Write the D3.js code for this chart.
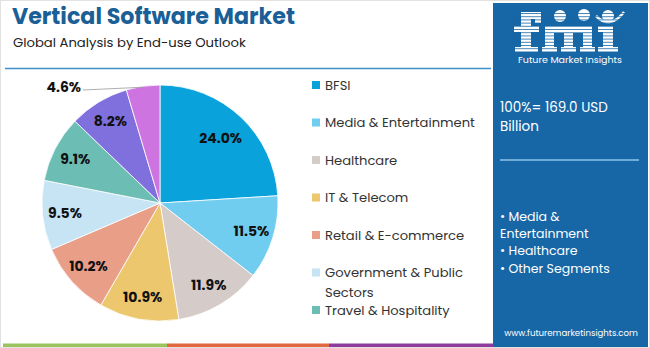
<!DOCTYPE html>
<html><head><meta charset="utf-8">
<script src="https://cdn.jsdelivr.net/npm/d3@7"></script>
<style>body{margin:0;background:#fff}svg{display:block}</style>
</head><body>
<script>
const categories = ["BFSI","Media & Entertainment","Healthcare","IT & Telecom","Retail & E-commerce","Government & Public Sectors","Travel & Hospitality","Others A","Others B"];
const values = [24.0,11.5,11.9,10.9,10.2,9.5,9.1,8.2,4.6];
const colors = ["#0aa2da","#70cdf0","#d5cbc9","#ecc76d","#e99e88","#c6e4f4","#6cbdb3","#7f70dd","#cd74e1"];
const legendLabels = [["BFSI"],["Media & Entertainment"],["Healthcare"],["IT & Telecom"],["Retail & E-commerce"],["Government & Public","Sectors"],["Travel & Hospitality"]];
const bullets = ["• Media &","Entertainment","• Healthcare","• Other Segments"];

const W=650,H=348;
const svg=d3.select("body").append("svg").attr("width",W).attr("height",H);
const F="Poppins, 'Open Sans', sans-serif";

// frame
svg.append("rect").attr("x",0.5).attr("y",0.5).attr("width",W-1).attr("height",H-1).attr("fill","#fff").attr("stroke","#e2e2e2");

// title
svg.append("text").attr("x",12).attr("y",24).text("Vertical Software Market")
  .attr("font-family",F).attr("font-weight",700).attr("font-size",22.2).attr("fill","#1b5f97");
svg.append("text").attr("x",13).attr("y",47).text("Global Analysis by End-use Outlook")
  .attr("font-family",F).attr("font-size",13.2).attr("fill","#222");
svg.append("line").attr("x1",5).attr("x2",491).attr("y1",68.5).attr("y2",68.5).attr("stroke","#3f8ec6").attr("stroke-width",1.3);

// bottom strips
const strips=[["#9bc45f",3,167],["#e2683f",167,329],["#8d3c9d",329,493]];
strips.forEach(s=>svg.append("rect").attr("x",s[1]).attr("y",343.5).attr("width",s[2]-s[1]).attr("height",3.5).attr("fill",s[0]));

// pie
const cx=160,cy=203,R=118;
const pie=d3.pie().sort(null).value(d=>d)(values);
const arc=d3.arc().innerRadius(0).outerRadius(R);
const g=svg.append("g").attr("transform",`translate(${cx},${cy})`);
g.selectAll("path").data(pie).enter().append("path").attr("d",arc).attr("fill",(d,i)=>colors[i]).attr("stroke","#fff").attr("stroke-width",0.8);
const labelArc=d3.arc().innerRadius(R*0.81).outerRadius(R*0.81);
const bigArc=d3.arc().innerRadius(R*0.75).outerRadius(R*0.75);
g.selectAll("text.l").data(pie.filter((d,i)=>i<8)).enter().append("text")
  .attr("transform",(d,i)=>`translate(${(i===0?bigArc:labelArc).centroid(d)})`)
  .attr("text-anchor","middle").attr("dy","0.35em")
  .attr("font-family",F).attr("font-weight",700).attr("font-size",14).attr("fill","#111")
  .text(d=>d.value.toFixed(1)+"%");
// outside label for last slice
const last=pie[8];
const ma=(last.startAngle+last.endAngle)/2;
const px=Math.sin(ma)*R, py=-Math.cos(ma)*R;
g.append("path").attr("d",`M${px},${py+1} L${-77},${-113}`).attr("stroke","#999").attr("fill","none").attr("stroke-width",0.8);
g.append("text").attr("x",-79).attr("y",-116).attr("text-anchor","end").attr("dy","0.35em")
  .attr("font-family",F).attr("font-weight",700).attr("font-size",14).attr("fill","#111").text(last.value.toFixed(1)+"%");

// legend
const ly=d3.scaleLinear().domain([0,1]).range([85,122.5]);
legendLabels.forEach((lab,i)=>{
  const y=ly(i);
  svg.append("rect").attr("x",312).attr("y",y-4).attr("width",8).attr("height",8).attr("fill",colors[i]);
  lab.forEach((t,j)=>svg.append("text").attr("x",325).attr("y",y+j*20).attr("dy","0.35em")
    .attr("font-family",F).attr("font-size",13.1).attr("fill","#333").text(t));
});

// right panel
svg.append("rect").attr("x",493).attr("y",3).attr("width",155).attr("height",344).attr("fill","#1767a6");
// logo (drawn as shapes)
const lg=svg.append("g").attr("fill","#fff");
const logoRects=[
  // f
  [521,16,10,36],[521,12,20,7],[535,12,6,11],[514,26,25,6],[515,47,23,5],
  // m
  [545,26,9,26],[564,30,9,22],[583,30,9,22],[545,26,47,7],[542,47,15,5],[561,47,15,5],[580,47,15,5],
  // i
  [603,28,10,24],[598,26,15,6],[598,47,20,5]
];
logoRects.forEach(r=>lg.append("rect").attr("x",r[0]).attr("y",r[1]).attr("width",r[2]).attr("height",r[3]));
[[560,16],[584,15],[608,16]].forEach(c=>lg.append("circle").attr("cx",c[0]).attr("cy",c[1]).attr("r",6).attr("fill","#fff"));
lg.append("path").attr("d","M596,16 Q610,30 624,12").attr("stroke","#fff").attr("stroke-width",2.5).attr("fill","none");
for(let y=13.5;y<52;y+=3.2){svg.append("line").attr("x1",512).attr("x2",630).attr("y1",y).attr("y2",y).attr("stroke","#1767a6").attr("stroke-width",0.8);}
svg.append("text").attr("x",570).attr("y",63).attr("text-anchor","middle").text("Future Market Insights")
  .attr("font-family",F).attr("font-size",9.5).attr("fill","#fff");

svg.append("text").attr("x",500).attr("y",112).text("100%= 169.0 USD").attr("font-family",F).attr("font-size",13.5).attr("fill","#fff");
svg.append("text").attr("x",500).attr("y",131).text("Billion").attr("font-family",F).attr("font-size",13.5).attr("fill","#fff");
svg.append("line").attr("x1",500).attr("x2",639).attr("y1",160).attr("y2",160).attr("stroke","#8fc3ea").attr("stroke-width",1.5);
bullets.forEach((b,i)=>svg.append("text").attr("x",500).attr("y",221+i*17.2).text(b).attr("font-family",F).attr("font-size",12.5).attr("fill","#fff"));
svg.append("text").attr("x",571).attr("y",336).attr("text-anchor","middle").text("www.futuremarketinsights.com").attr("font-family",F).attr("font-size",8.6).attr("fill","#fff");
</script>
</body></html>
